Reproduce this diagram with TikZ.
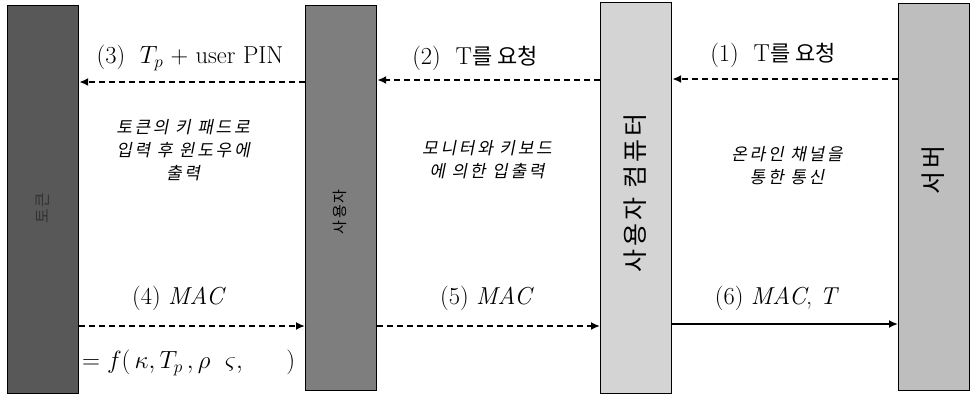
\documentclass[tikz,border=0pt]{standalone}
\usepackage{fontspec}
\newfontfamily\kr{Noto Sans CJK KR}
\newfontfamily\krs[LetterSpace=12]{Noto Sans CJK KR}
\newfontfamily\kri[FakeSlant=0.2,LetterSpace=16]{Noto Sans CJK KR}
\usetikzlibrary{arrows.meta}
\definecolor{tokenfill}{HTML}{585858}
\definecolor{userfill}{HTML}{7E7E7E}
\definecolor{compfill}{HTML}{D4D4D4}
\definecolor{servfill}{HTML}{BEBEBE}
\tikzset{
  bar/.style={draw=black, line width=1.2pt, anchor=north west, inner sep=0pt, minimum width=71pt},
  barlabel/.style={rotate=90, text=black},
  msgarrow/.style={line width=1.8pt, -{Latex[length=9pt,width=8pt]}},
  dasharrow/.style={msgarrow, dash pattern=on 6pt off 4pt},
  msglabel/.style={font=\fontsize{24.5}{26}\selectfont, inner sep=0pt},
  note/.style={font=\kri\fontsize{17}{23}\selectfont, align=center, inner sep=0pt}
}
\begin{document}
\begin{tikzpicture}[x=1pt,y=-1pt]
\useasboundingbox (0,0) rectangle (970,396);
% bars
\node[bar, fill=tokenfill, minimum height=388pt] (token) at (7,5) {};
\node[bar, fill=userfill, minimum height=385pt] (user) at (305,5) {};
\node[bar, fill=compfill, minimum height=391pt] (comp) at (600,2) {};
\node[bar, fill=servfill, minimum height=387pt] (serv) at (898,3) {};
% bar labels
\node[barlabel, font=\krs\fontsize{16}{16}\selectfont, text=black!80] (tokenlbl) at (42.5,208) {토큰};
\node[barlabel, font=\krs\fontsize{15}{15}\selectfont] (userlbl) at (340,212) {사용자};
\node[barlabel, font=\krs\fontsize{25}{25}\selectfont] (complbl) at (635,193) {사용자 컴퓨터};
\node[barlabel, font=\krs\fontsize{25}{25}\selectfont] (servlbl) at (933,170) {서버};
% rows
\coordinate (r1) at (0,79);
\coordinate (r2) at (0,80);
\coordinate (r3) at (0,82);
\coordinate (r4) at (0,326);
\coordinate (r5) at (0,326);
\coordinate (r6) at (0,324);
% arrows
\draw[dasharrow] (serv.west |- r1) -- (comp.east |- r1);
\draw[dasharrow] (comp.west |- r2) -- (user.east |- r2);
\draw[dasharrow] (user.west |- r3) -- (token.east |- r3);
\draw[dasharrow] (token.east |- r4) -- (user.west |- r4);
\draw[dasharrow] (user.east |- r5) -- (comp.west |- r5);
\draw[msgarrow] (comp.east |- r6) -- (serv.west |- r6);
% message labels
\node[msglabel] (l1) at (773,55) {(1)\ \ T{\kr\fontsize{22}{22}\selectfont 를 요청}};
\node[msglabel] (l2) at (475,58) {(2)\ \ T{\kr\fontsize{22}{22}\selectfont 를 요청}};
\node[msglabel] (l3) at (190,58) {(3)\ \ $T_p$ + user PIN};
\node[msglabel] (l4) at (179,298) {(4)\ \textit{MAC}};
\node[msglabel] (l5) at (487,298) {(5)\ \textit{MAC}};
\node[msglabel] (l6) at (777,298) {(6)\ \textit{MAC}, \textit{T}};
\node[msglabel, anchor=west] (fml) at (82,363) {$=f(\,\kappa, T_p\,, \rho\ \ \varsigma, \quad\ \ )$};
% notes
\node[note] (n1) at (183,150) {토큰의 키 패드로\\입력 후 윈도우에\\출력};
\node[note] (n2) at (487,160) {모니터와 키보드\\에 의한 입출력};
\node[note] (n3) at (787,166) {온라인 채널을\\통한 통신};
\end{tikzpicture}
\end{document}
